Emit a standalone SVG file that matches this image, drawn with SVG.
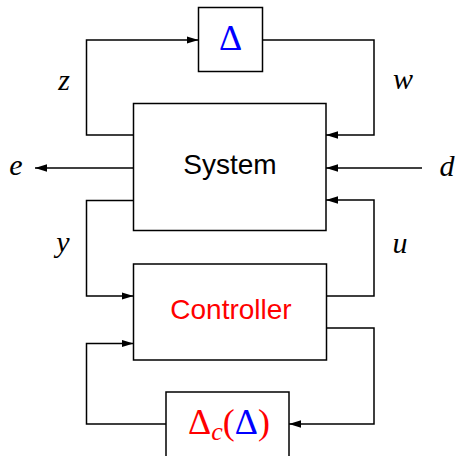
<svg xmlns="http://www.w3.org/2000/svg" width="458" height="456" viewBox="0 0 458 456">
<style>
.box{fill:#fff;stroke:#000;stroke-width:1.5}
.wire{fill:none;stroke:#000;stroke-width:1.5;marker-end:url(#ah)}
.sans{font-family:"Liberation Sans",Arial,sans-serif;font-size:28px;text-anchor:middle}
.math{font-family:"Liberation Serif","Times New Roman",serif;font-style:italic;font-size:30px;text-anchor:middle}
.up{font-family:"Liberation Serif","Times New Roman",serif;font-size:36px;text-anchor:middle}
</style>
<defs>
<marker id="ah" markerUnits="userSpaceOnUse" markerWidth="12" markerHeight="8" refX="12" refY="4" orient="auto">
<path d="M0,0.3 L12,4 L0,7.7 z" fill="#000"/>
</marker>
</defs>
<g id="connectors">
<path class="wire" d="M133.5,135 H86.5 V40 H198.5"/>
<path class="wire" d="M262.5,40 H374 V135 H326"/>
<path class="wire" d="M133.5,168 H35"/>
<path class="wire" d="M422,168 H326"/>
<path class="wire" d="M133.5,200.5 H86.5 V296 H133.5"/>
<path class="wire" d="M326.5,296 H374 V200 H326"/>
<path class="wire" d="M326.5,328 H374 V424 H289"/>
<path class="wire" d="M166,424 H86.5 V343.5 H133.5"/>
</g>
<g id="labels">
<text class="math" x="64" y="90">z</text>
<text class="math" x="403" y="89">w</text>
<text class="math" x="16" y="175">e</text>
<text class="math" x="447" y="176">d</text>
<text class="math" x="63" y="252">y</text>
<text class="math" x="400" y="253">u</text>
</g>
<g id="delta">
<rect class="box" x="198.5" y="7.5" width="64" height="64"/>
<text class="up" x="230.5" y="50" fill="#0000ff">Δ</text>
</g>
<g id="system">
<rect class="box" x="133.5" y="103.5" width="192.5" height="127"/>
<text class="sans" x="230" y="174">System</text>
</g>
<g id="controller">
<rect class="box" x="133.5" y="264" width="193" height="96"/>
<text class="sans" x="231" y="319" fill="#ff0000">Controller</text>
</g>
<g id="deltac">
<rect class="box" x="166" y="392" width="123" height="66"/>
<text class="up" x="229" y="434" font-size="34px" fill="#ff0000">Δ<tspan font-style="italic" font-size="26px" dy="6">c</tspan><tspan dy="-6">(</tspan><tspan fill="#0000ff">Δ</tspan>)</text>
</g>
</svg>
